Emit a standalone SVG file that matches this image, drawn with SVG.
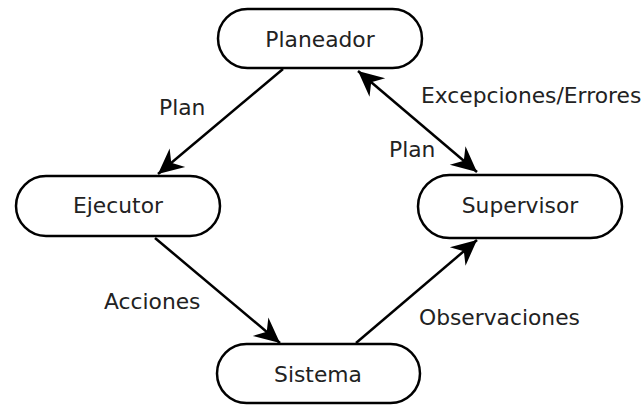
<svg xmlns="http://www.w3.org/2000/svg" width="643" height="406" viewBox="0 0 643 406">
<style>
.node rect{fill:#fff;stroke:#000;stroke-width:2.5}
text{font-family:"DejaVu Sans",sans-serif;font-size:21.8px;fill:#222}
.c line{stroke:#000;stroke-width:2.5}
</style>
<defs>
<marker id="ah" markerUnits="userSpaceOnUse" markerWidth="30" markerHeight="30" viewBox="-24 -12 26 24" refX="0" refY="0" orient="auto-start-reverse">
<path d="M0,0 L-22,-10.5 L-15,0 L-22,10.5 Z" fill="#000"/>
</marker>
</defs>
<rect width="643" height="406" fill="#fff"/>
<g class="c">
<line x1="283" y1="69" x2="158" y2="174" marker-end="url(#ah)"/>
<line x1="358" y1="71" x2="477" y2="172" marker-start="url(#ah)" marker-end="url(#ah)"/>
<line x1="155" y1="238" x2="280" y2="343" marker-end="url(#ah)"/>
<line x1="356" y1="343" x2="477" y2="240" marker-end="url(#ah)"/>
</g>
<g id="planeador" class="node"><rect x="218" y="9" width="204" height="59" rx="29.5"/><text x="320" y="47" text-anchor="middle">Planeador</text></g>
<g id="ejecutor" class="node"><rect x="16" y="176" width="204" height="60" rx="30"/><text x="118" y="213" text-anchor="middle">Ejecutor</text></g>
<g id="supervisor" class="node"><rect x="418" y="175" width="204" height="63" rx="31.5"/><text x="520" y="213" text-anchor="middle">Supervisor</text></g>
<g id="sistema" class="node"><rect x="217" y="344" width="203" height="59" rx="29.5"/><text x="318" y="382" text-anchor="middle">Sistema</text></g>
<text x="159" y="115">Plan</text>
<text x="421" y="103">Excepciones/Errores</text>
<text x="389" y="157">Plan</text>
<text x="104" y="309">Acciones</text>
<text x="419" y="325">Observaciones</text>
</svg>
